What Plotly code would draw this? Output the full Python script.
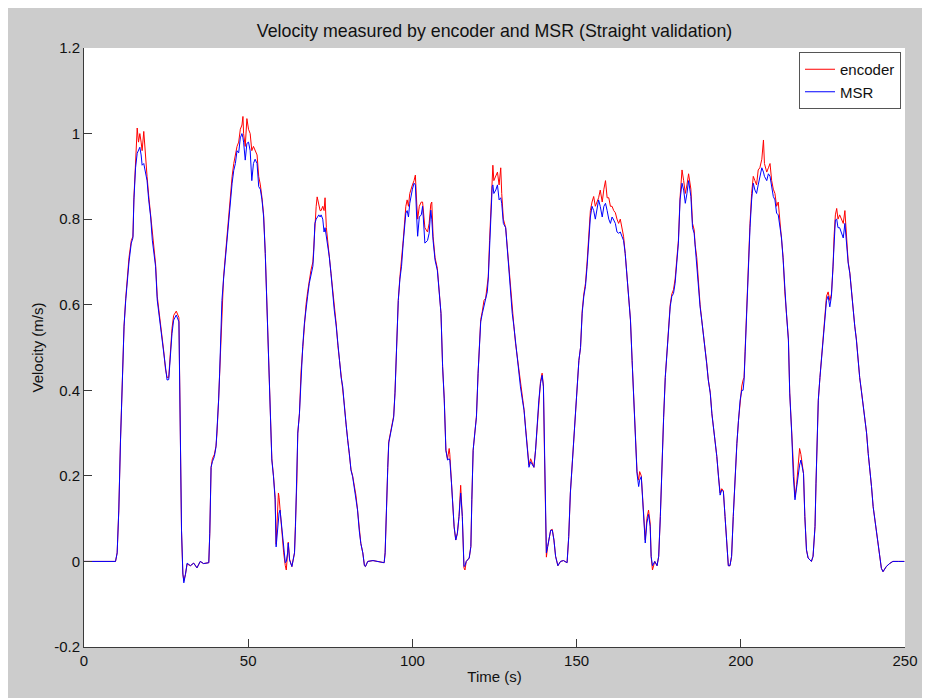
import plotly.graph_objects as go

# ---- data ----
time_s = [
    0.0, 5.0, 9.6, 10.1, 10.6, 11.1, 11.6, 12.2, 12.7, 13.2, 13.7, 14.4, 14.9, 15.2, 15.7, 16.2, 16.6, 17.0, 17.4, 17.7,
    18.2, 18.7, 19.2, 19.7, 20.3, 20.8, 21.3, 21.8, 22.3, 22.8, 23.3, 23.8, 24.3, 24.8, 25.3, 25.8, 26.3, 26.8, 27.3, 28.1,
    28.9, 29.2, 29.5, 29.7, 30.1, 30.4, 30.9, 31.4, 32.4, 33.4, 34.4, 35.4, 36.4, 38.0, 38.3, 38.7, 39.1, 39.7, 40.2, 40.5,
    41.0, 41.3, 41.7, 42.0, 42.5, 43.0, 43.5, 44.0, 44.6, 45.1, 45.6, 46.1, 46.6, 47.1, 47.6, 48.1, 48.4, 48.6, 49.1, 49.6,
    50.1, 50.6, 51.1, 51.6, 52.1, 52.7, 53.2, 53.7, 54.2, 54.7, 55.2, 55.7, 56.2, 56.7, 57.2, 57.7, 58.2, 58.5, 58.9, 59.2,
    59.4, 59.7, 60.2, 60.8, 61.3, 61.6, 62.0, 62.2, 62.6, 63.3, 64.1, 64.4, 64.8, 65.1, 65.6, 66.1, 66.6, 67.1, 67.6, 68.1,
    68.6, 69.1, 69.7, 70.0, 70.3, 70.7, 71.0, 71.5, 71.9, 72.2, 72.7, 73.1, 73.4, 73.8, 74.2, 74.7, 75.2, 75.7, 76.2, 76.8,
    77.3, 77.8, 78.3, 78.8, 79.3, 79.8, 80.3, 80.8, 81.3, 81.8, 82.3, 82.8, 83.3, 83.8, 84.3, 84.9, 85.4, 85.7, 86.4, 88.0,
    90.0, 91.4, 91.7, 92.1, 92.5, 92.8, 93.3, 93.8, 94.3, 94.7, 95.0, 95.3, 95.7, 96.2, 96.7, 97.2, 97.7, 98.0, 98.4, 98.8,
    99.2, 99.7, 100.0, 100.5, 100.9, 101.3, 101.6, 102.1, 102.7, 103.1, 103.8, 104.6, 105.1, 105.6, 105.9, 106.3, 106.9, 107.6, 108.1, 108.7,
    109.2, 109.7, 110.2, 110.7, 111.2, 111.4, 111.9, 112.2, 112.7, 113.2, 113.7, 114.2, 114.7, 115.2, 115.7, 116.0, 116.4, 117.3, 117.8, 118.1,
    118.5, 119.0, 119.5, 120.0, 120.3, 120.8, 121.3, 121.8, 122.3, 122.8, 123.1, 123.5, 123.9, 124.3, 124.5, 124.8, 125.4, 125.9, 126.4, 126.9,
    127.2, 127.7, 128.4, 128.9, 129.4, 129.9, 130.4, 130.9, 131.4, 131.9, 132.4, 132.9, 133.5, 134.0, 134.5, 135.0, 135.5, 136.0, 136.5, 137.0,
    137.5, 138.0, 138.5, 139.0, 139.5, 139.9, 140.2, 140.5, 140.8, 141.2, 141.6, 142.1, 142.6, 143.1, 143.6, 144.3, 145.1, 146.0, 147.1, 147.6,
    148.1, 148.6, 149.1, 149.7, 150.2, 150.7, 151.2, 151.7, 152.2, 152.7, 153.2, 153.7, 154.2, 154.7, 155.2, 155.7, 156.2, 156.7, 157.2, 157.8,
    158.3, 158.8, 159.3, 159.8, 160.3, 160.8, 161.3, 161.8, 162.3, 162.8, 163.3, 163.8, 164.3, 164.8, 165.3, 165.9, 166.4, 166.9, 167.4, 167.9,
    168.4, 168.9, 169.2, 169.7, 170.1, 170.5, 170.9, 171.4, 171.9, 172.4, 172.7, 173.1, 173.8, 174.5, 175.0, 175.5, 175.8, 176.2, 176.5, 177.0,
    177.5, 178.0, 178.5, 179.0, 179.5, 180.0, 180.5, 181.0, 181.5, 182.1, 182.6, 183.1, 183.6, 184.1, 184.8, 185.3, 185.8, 186.1, 186.6, 187.1,
    187.6, 188.1, 188.6, 189.1, 189.6, 190.1, 190.7, 191.2, 191.7, 192.2, 192.7, 193.2, 193.7, 194.2, 194.7, 195.2, 195.7, 196.2, 196.7, 197.2,
    197.7, 198.3, 198.8, 199.3, 199.8, 200.3, 200.7, 201.0, 201.3, 201.8, 202.3, 202.8, 203.3, 203.8, 204.3, 204.8, 205.3, 205.8, 206.4, 206.9,
    207.2, 207.9, 208.4, 208.9, 209.4, 209.9, 210.4, 210.9, 211.4, 211.9, 212.4, 212.9, 213.4, 213.9, 214.5, 214.9, 215.5, 216.0, 216.5, 217.0,
    217.5, 217.9, 218.3, 218.7, 219.1, 219.5, 220.0, 220.5, 221.0, 221.5, 222.0, 222.6, 222.9, 223.3, 223.6, 224.1, 224.6, 225.1, 225.6, 226.1,
    226.6, 227.1, 227.6, 228.1, 228.4, 228.8, 229.2, 229.6, 230.1, 230.7, 231.2, 231.7, 232.2, 232.7, 233.2, 233.7, 234.2, 234.7, 235.2, 235.7,
    236.2, 236.7, 237.2, 237.7, 238.3, 238.8, 239.3, 239.8, 240.3, 240.8, 241.3, 241.8, 242.3, 242.8, 243.3, 244.3, 245.3, 246.3, 248.0, 249.8,
]

msr_velocity = [
    0.0, 0.0, 0.0, 0.02, 0.12, 0.277, 0.43, 0.55, 0.61, 0.66, 0.70, 0.744, 0.756, 0.845, 0.92, 0.954, 0.96, 0.968, 0.95, 0.926,
    0.93, 0.91, 0.89, 0.845, 0.805, 0.751, 0.712, 0.689, 0.611, 0.58, 0.54, 0.517, 0.486, 0.447, 0.424, 0.425, 0.486, 0.533, 0.564, 0.576,
    0.56, 0.377, 0.22, 0.073, -0.027, -0.05, -0.03, -0.004, -0.01, -0.004, -0.015, 0.0, -0.005, -0.003, 0.066, 0.22, 0.233, 0.245, 0.268, 0.30,
    0.377, 0.44, 0.55, 0.61, 0.66, 0.704, 0.751, 0.798, 0.849, 0.884, 0.914, 0.93, 0.96, 0.955, 0.99, 1.00, 0.99, 0.98, 0.938, 0.977,
    0.98, 0.96, 0.89, 0.93, 0.94, 0.93, 0.876, 0.87, 0.845, 0.805, 0.72, 0.611, 0.47, 0.377, 0.237, 0.198, 0.144, 0.034, 0.066, 0.10,
    0.113, 0.12, 0.08, 0.02, -0.003, 0.0, 0.02, 0.043, 0.003, -0.012, 0.02, 0.082, 0.183, 0.30, 0.345, 0.44, 0.502, 0.556, 0.595, 0.62,
    0.65, 0.67, 0.69, 0.73, 0.79, 0.80, 0.805, 0.81, 0.805, 0.81, 0.80, 0.77, 0.78, 0.76, 0.744, 0.712, 0.673, 0.626, 0.588, 0.55,
    0.502, 0.47, 0.43, 0.408, 0.361, 0.315, 0.283, 0.252, 0.213, 0.198, 0.175, 0.152, 0.12, 0.073, 0.042, 0.02, -0.01, -0.012, 0.0, 0.002,
    0.0, -0.003, 0.02, 0.144, 0.22, 0.277, 0.30, 0.322, 0.337, 0.393, 0.47, 0.55, 0.61, 0.66, 0.69, 0.744, 0.79, 0.814, 0.82, 0.805,
    0.837, 0.86, 0.87, 0.884, 0.88, 0.805, 0.76, 0.805, 0.81, 0.83, 0.744, 0.75, 0.767, 0.821, 0.80, 0.75, 0.704, 0.68, 0.626, 0.58,
    0.455, 0.377, 0.26, 0.237, 0.24, 0.237, 0.183, 0.144, 0.082, 0.05, 0.066, 0.105, 0.16, 0.105, -0.012, -0.01, 0.0, 0.008, 0.035, 0.144,
    0.26, 0.30, 0.337, 0.44, 0.48, 0.56, 0.58, 0.595, 0.61, 0.63, 0.66, 0.744, 0.83, 0.876, 0.88, 0.86, 0.868, 0.88, 0.845, 0.85,
    0.837, 0.79, 0.78, 0.728, 0.673, 0.626, 0.58, 0.55, 0.51, 0.478, 0.447, 0.408, 0.377, 0.353, 0.307, 0.26, 0.22, 0.233, 0.225, 0.22,
    0.26, 0.322, 0.377, 0.416, 0.435, 0.408, 0.26, 0.105, 0.02, 0.035, 0.05, 0.073, 0.073, 0.05, 0.012, -0.01, 0.0, 0.002, -0.003, 0.058,
    0.16, 0.22, 0.283, 0.337, 0.416, 0.47, 0.50, 0.58, 0.62, 0.643, 0.69, 0.751, 0.805, 0.83, 0.82, 0.80, 0.82, 0.845, 0.83, 0.805,
    0.83, 0.837, 0.82, 0.80, 0.79, 0.805, 0.798, 0.79, 0.77, 0.767, 0.77, 0.76, 0.75, 0.72, 0.665, 0.62, 0.564, 0.47, 0.377, 0.283,
    0.205, 0.175, 0.19, 0.198, 0.144, 0.082, 0.043, 0.09, 0.11, 0.082, 0.012, -0.01, 0.0, -0.01, 0.012, 0.105, 0.183, 0.26, 0.337, 0.43,
    0.494, 0.55, 0.595, 0.62, 0.626, 0.65, 0.69, 0.744, 0.845, 0.884, 0.868, 0.837, 0.86, 0.89, 0.853, 0.78, 0.767, 0.735, 0.704, 0.643,
    0.595, 0.564, 0.533, 0.502, 0.463, 0.424, 0.393, 0.345, 0.315, 0.283, 0.245, 0.198, 0.155, 0.167, 0.163, 0.105, 0.035, -0.01, -0.01, 0.012,
    0.105, 0.205, 0.275, 0.33, 0.377, 0.40, 0.40, 0.424, 0.486, 0.595, 0.712, 0.78, 0.845, 0.884, 0.868, 0.86, 0.88, 0.90, 0.92, 0.91,
    0.90, 0.89, 0.906, 0.90, 0.876, 0.853, 0.845, 0.814, 0.81, 0.78, 0.756, 0.704, 0.626, 0.58, 0.517, 0.393, 0.30, 0.198, 0.144, 0.175,
    0.21, 0.225, 0.237, 0.22, 0.205, 0.105, 0.027, 0.008, 0.003, 0.0, 0.012, 0.082, 0.183, 0.30, 0.377, 0.43, 0.478, 0.533, 0.58, 0.61,
    0.62, 0.595, 0.62, 0.69, 0.751, 0.798, 0.80, 0.78, 0.78, 0.767, 0.756, 0.79, 0.744, 0.697, 0.673, 0.626, 0.595, 0.55, 0.517, 0.463,
    0.43, 0.40, 0.369, 0.33, 0.30, 0.252, 0.22, 0.175, 0.128, 0.097, 0.066, 0.035, 0.003, -0.016, -0.024, -0.012, -0.005, 0.0, 0.0, 0.0,
]

encoder_velocity = [
    0.0, 0.0, 0.0, 0.02, 0.12, 0.28, 0.43, 0.55, 0.615, 0.665, 0.71, 0.75, 0.76, 0.85, 0.94, 1.013, 0.98, 1.00, 0.98, 0.96,
    1.005, 0.94, 0.90, 0.855, 0.81, 0.76, 0.72, 0.695, 0.62, 0.59, 0.55, 0.52, 0.49, 0.45, 0.43, 0.43, 0.49, 0.545, 0.575, 0.585,
    0.57, 0.38, 0.22, 0.07, -0.03, -0.045, -0.03, -0.006, -0.01, -0.004, -0.015, 0.0, -0.005, -0.003, 0.066, 0.22, 0.24, 0.25, 0.27, 0.30,
    0.38, 0.44, 0.55, 0.61, 0.665, 0.71, 0.76, 0.81, 0.86, 0.90, 0.93, 0.95, 0.97, 0.98, 1.01, 1.02, 1.04, 1.00, 0.97, 1.035,
    1.01, 1.00, 0.96, 0.97, 0.96, 0.95, 0.90, 0.88, 0.85, 0.81, 0.72, 0.61, 0.47, 0.38, 0.24, 0.20, 0.15, 0.04, 0.10, 0.16,
    0.15, 0.12, 0.08, 0.02, -0.01, -0.02, 0.02, 0.045, 0.005, -0.012, 0.02, 0.082, 0.183, 0.30, 0.345, 0.445, 0.505, 0.56, 0.60, 0.63,
    0.66, 0.68, 0.70, 0.74, 0.80, 0.83, 0.852, 0.83, 0.82, 0.82, 0.83, 0.82, 0.85, 0.78, 0.75, 0.72, 0.68, 0.63, 0.59, 0.555,
    0.505, 0.47, 0.43, 0.41, 0.365, 0.32, 0.285, 0.255, 0.215, 0.20, 0.178, 0.155, 0.12, 0.073, 0.042, 0.02, -0.01, -0.012, 0.0, 0.002,
    0.0, -0.003, 0.02, 0.144, 0.22, 0.28, 0.30, 0.325, 0.34, 0.395, 0.47, 0.55, 0.61, 0.665, 0.70, 0.75, 0.80, 0.83, 0.845, 0.83,
    0.86, 0.875, 0.88, 0.89, 0.903, 0.84, 0.80, 0.83, 0.84, 0.84, 0.78, 0.77, 0.79, 0.835, 0.84, 0.76, 0.71, 0.685, 0.63, 0.58,
    0.455, 0.38, 0.26, 0.24, 0.264, 0.25, 0.185, 0.144, 0.08, 0.05, 0.066, 0.105, 0.178, 0.105, -0.015, -0.02, 0.0, 0.008, 0.035, 0.144,
    0.26, 0.30, 0.34, 0.44, 0.49, 0.565, 0.585, 0.61, 0.615, 0.64, 0.665, 0.75, 0.84, 0.90, 0.926, 0.89, 0.90, 0.91, 0.88, 0.92,
    0.86, 0.80, 0.78, 0.73, 0.68, 0.63, 0.58, 0.55, 0.51, 0.48, 0.45, 0.41, 0.38, 0.355, 0.31, 0.26, 0.225, 0.24, 0.23, 0.22,
    0.26, 0.322, 0.38, 0.42, 0.44, 0.41, 0.26, 0.105, 0.01, 0.035, 0.05, 0.073, 0.075, 0.05, 0.012, -0.01, 0.0, 0.002, -0.003, 0.058,
    0.16, 0.22, 0.283, 0.34, 0.42, 0.47, 0.50, 0.585, 0.625, 0.65, 0.70, 0.76, 0.82, 0.84, 0.853, 0.83, 0.84, 0.85, 0.868, 0.84,
    0.87, 0.89, 0.85, 0.85, 0.83, 0.83, 0.82, 0.815, 0.80, 0.79, 0.80, 0.78, 0.76, 0.72, 0.665, 0.62, 0.565, 0.47, 0.38, 0.285,
    0.21, 0.19, 0.21, 0.20, 0.144, 0.082, 0.05, 0.10, 0.12, 0.09, 0.012, -0.02, 0.0, -0.01, 0.012, 0.105, 0.183, 0.26, 0.337, 0.43,
    0.494, 0.55, 0.60, 0.625, 0.635, 0.66, 0.70, 0.75, 0.85, 0.915, 0.89, 0.86, 0.88, 0.906, 0.87, 0.79, 0.775, 0.74, 0.71, 0.645,
    0.60, 0.565, 0.535, 0.505, 0.465, 0.425, 0.395, 0.345, 0.315, 0.285, 0.245, 0.20, 0.16, 0.17, 0.165, 0.105, 0.035, -0.01, -0.01, 0.012,
    0.105, 0.205, 0.275, 0.33, 0.38, 0.41, 0.424, 0.43, 0.49, 0.60, 0.72, 0.79, 0.86, 0.90, 0.89, 0.88, 0.915, 0.92, 0.94, 0.985,
    0.93, 0.91, 0.92, 0.93, 0.89, 0.87, 0.86, 0.83, 0.84, 0.79, 0.76, 0.71, 0.63, 0.58, 0.52, 0.395, 0.30, 0.20, 0.15, 0.18,
    0.23, 0.264, 0.25, 0.225, 0.205, 0.105, 0.027, 0.008, 0.003, 0.0, 0.012, 0.082, 0.183, 0.30, 0.377, 0.43, 0.48, 0.535, 0.585, 0.62,
    0.63, 0.61, 0.625, 0.69, 0.76, 0.81, 0.825, 0.80, 0.81, 0.80, 0.79, 0.82, 0.75, 0.70, 0.675, 0.63, 0.595, 0.55, 0.52, 0.465,
    0.43, 0.40, 0.37, 0.33, 0.30, 0.252, 0.22, 0.175, 0.128, 0.097, 0.066, 0.035, 0.003, -0.016, -0.024, -0.012, -0.005, 0.0, 0.0, 0.0,
]

y_tick_vals = [-0.2, 0, 0.2, 0.4, 0.6, 0.8, 1.0, 1.2]
y_tick_text = ["-0.2", "0", "0.2", "0.4", "0.6", "0.8", "1", "1.2"]
x_tick_vals = [0, 50, 100, 150, 200, 250]
x_tick_text = ["0", "50", "100", "150", "200", "250"]

FONT = "Liberation Sans, Arial, sans-serif"
AXIS_COLOR = "#3a3a3a"
TEXT_COLOR = "#111111"

fig = go.Figure()
fig.add_trace(go.Scatter(x=time_s, y=encoder_velocity, mode="lines", name="encoder",
                         line=dict(color="#ff0000", width=1)))
fig.add_trace(go.Scatter(x=time_s, y=msr_velocity, mode="lines", name="MSR",
                         line=dict(color="#0000ff", width=1)))

# figure sits 8px in from the page's top-left corner (page body margin)
W, H = 922, 690
L, R, T, B = 76, 23, 40, 51
pw, ph = W - L - R, H - T - B

fig.update_layout(
    width=W, height=H,
    margin=dict(l=L, r=R, t=T, b=B),
    paper_bgcolor="#cccccc",
    plot_bgcolor="white",
    font=dict(family=FONT, size=15, color=TEXT_COLOR),
    title=dict(text="Velocity measured by encoder and MSR (Straight validation)",
               xref="paper", x=0.5, xanchor="center", y=1 - 23 / H, yanchor="middle",
               font=dict(family=FONT, size=17.8, color=TEXT_COLOR)),
    showlegend=True,
    legend=dict(x=(895 - L) / pw, xanchor="right", y=(H - B - 44) / ph, yanchor="top",
                bgcolor="white", bordercolor="#555555", borderwidth=1,
                font=dict(family=FONT, size=15, color=TEXT_COLOR),
                tracegroupgap=0, itemwidth=30),
    xaxis=dict(range=[0, 250], tickvals=x_tick_vals, ticktext=x_tick_text,
               ticks="inside", ticklen=8, tickcolor=AXIS_COLOR,
               showline=True, linecolor=AXIS_COLOR, linewidth=1, mirror=False,
               showgrid=False, zeroline=False,
               title=dict(text="Time (s)", standoff=3, font=dict(size=15)),
               tickfont=dict(size=15)),
    yaxis=dict(range=[-0.2, 1.2], tickvals=y_tick_vals, ticktext=y_tick_text,
               ticks="inside", ticklen=8, tickcolor=AXIS_COLOR,
               showline=True, linecolor=AXIS_COLOR, linewidth=1, mirror=False,
               showgrid=False, zeroline=False,
               title=dict(text="Velocity (m/s)", standoff=6, font=dict(size=15)),
               tickfont=dict(size=15)),
)

fig.write_html("out.html")
